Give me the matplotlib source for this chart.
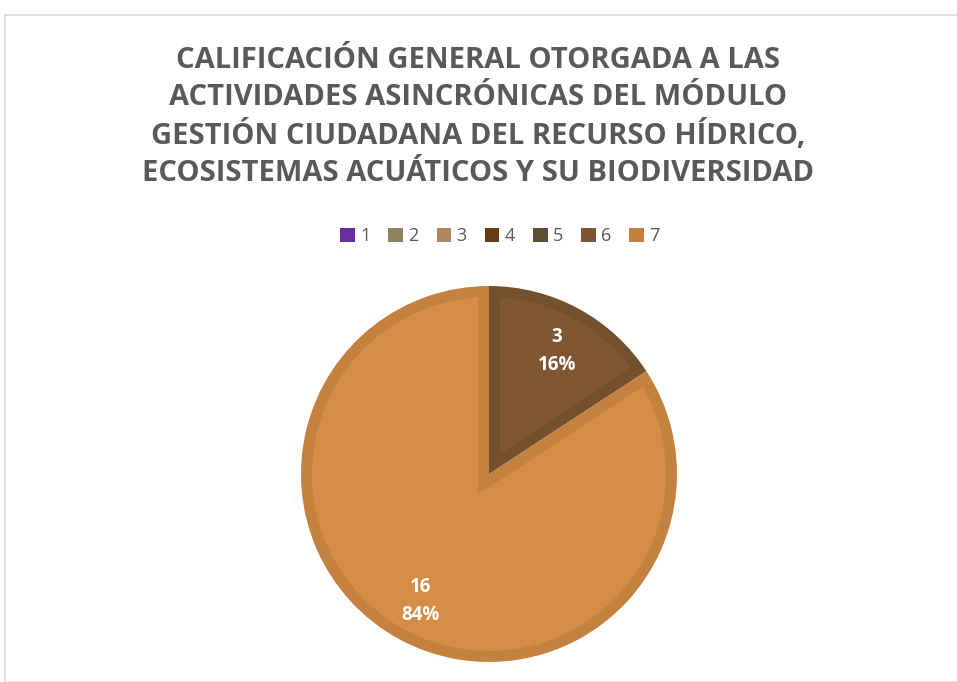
import numpy as np
import matplotlib
matplotlib.use('Agg')
import matplotlib.pyplot as plt
from matplotlib.patches import Patch, Rectangle, Polygon

# Data
categories = ['1', '2', '3', '4', '5', '6', '7']
counts = [0, 0, 0, 0, 0, 3, 16]
legend_colors = ['#6B2E9A', '#8F8462', '#B08760', '#693C15', '#5B5036', '#7D5533', '#C57F3E']
fill_colors = ['#6B2E9A', '#8F8462', '#B08760', '#693C15', '#5B5036', '#7F5833', '#D68D46']
edge_colors = ['#5A2682', '#7A7053', '#967251', '#5A3312', '#4D442E', '#73502E', '#C4813F']

title = ('CALIFICACIÓN GENERAL OTORGADA A LAS\n'
         'ACTIVIDADES ASINCRÓNICAS DEL MÓDULO\n'
         'GESTIÓN CIUDADANA DEL RECURSO HÍDRICO,\n'
         'ECOSISTEMAS ACUÁTICOS Y SU BIODIVERSIDAD')

W, H = 957, 682
fig = plt.figure(figsize=(W / 100, H / 100), dpi=100)

# chart border (light grey frame)
fig.patches.append(Rectangle((5 / W, 0), 1, 1 - 15 / H, transform=fig.transFigure,
                             fill=False, edgecolor='#D9D9D9', linewidth=1.2))

fig.text(0.5, 1 - 117 / H, title, ha='center', va='center', fontsize=21,
         fontweight='bold', color='#595959', family='Open Sans', linespacing=1.36)

# pie axes: centre (489, 474) px, radius 188 px
cx, cy, r = 489, 474, 188
ax = fig.add_axes([(cx - r) / W, (H - cy - r) / H, 2 * r / W, 2 * r / H])

nz = [i for i, v in enumerate(counts) if v > 0]
vals = [counts[i] for i in nz]
total = sum(vals)


def fmt(p):
    n = int(round(p * total / 100))
    return f'{n}\n{p:.0f}%'


# outer wedges in the (darker) edge colour
wedges, texts, autotexts = ax.pie(vals, colors=[edge_colors[i] for i in nz],
                                  startangle=90, counterclock=False,
                                  autopct=fmt, pctdistance=0.76,
                                  wedgeprops=dict(linewidth=0),
                                  textprops=dict(color='white', fontsize=13.5,
                                                 fontweight='bold', family='Open Sans'))

# inner fill: each wedge shrunk by an inner stroke of width d (miter corner)
d = 11 / r
for w, i in zip(wedges, nz):
    t1, t2 = np.radians(w.theta1), np.radians(w.theta2)
    span = t2 - t1
    mid = (t1 + t2) / 2
    apex = d / np.sin(span / 2)
    da = np.arcsin(d / (1 - d))
    arc = np.linspace(t1 + da, t2 - da, 200)
    pts = [(apex * np.cos(mid), apex * np.sin(mid))]
    pts += list(zip((1 - d) * np.cos(arc), (1 - d) * np.sin(arc)))
    ax.add_patch(Polygon(pts, closed=True, facecolor=fill_colors[i],
                         edgecolor='none', zorder=1.5))

label_pos = {5: (0.362, 0.655), 6: (-0.362, -0.675)}
for t, i in zip(autotexts, nz):
    t.set_linespacing(1.5)
    t.set_position(label_pos[i])
    t.set_zorder(3)

ax.set_xlim(-1, 1)
ax.set_ylim(-1, 1)
ax.axis('off')

handles = [Patch(facecolor=c, edgecolor='none') for c in legend_colors]
fig.legend(handles, categories, loc='center', bbox_to_anchor=(500 / W, 1 - 236 / H),
           ncol=7, frameon=False, labelcolor='#595959',
           handlelength=0.8, handleheight=0.8, handletextpad=0.3, columnspacing=1.0,
           prop={'family': 'Open Sans', 'size': 13})

fig.savefig('out.png', dpi=100)
